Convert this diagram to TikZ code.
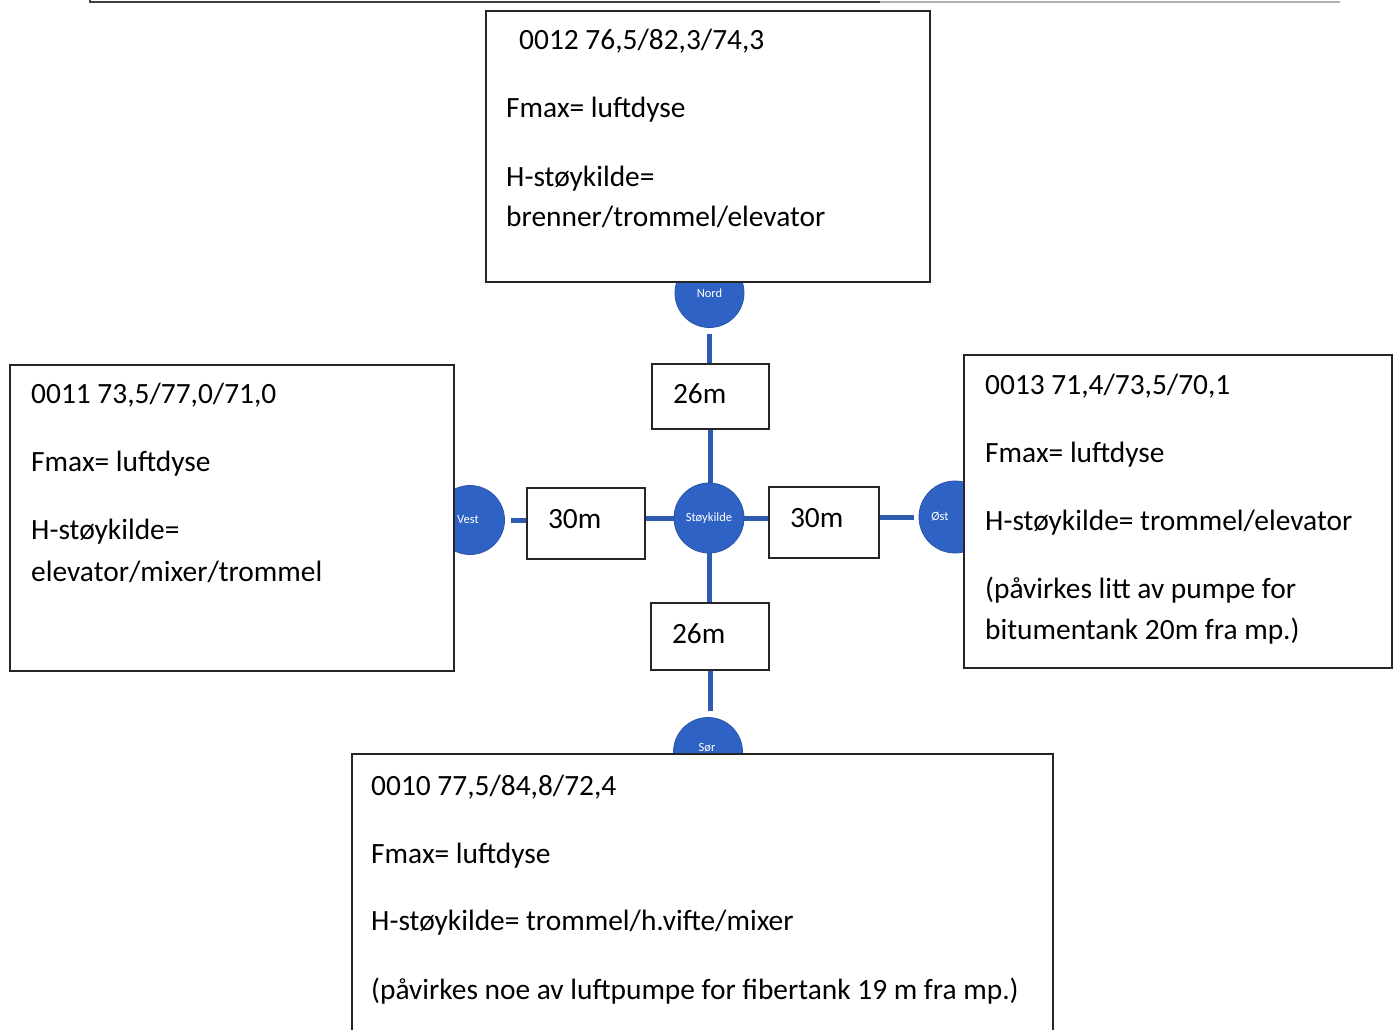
\documentclass[tikz,border=0pt]{standalone}
\usepackage{fontspec}
\setmainfont{Carlito}
\definecolor{nodeblue}{HTML}{2E63C5}
\definecolor{lineblue}{HTML}{2C5BB0}
\begin{document}
\begin{tikzpicture}[x=1pt,y=-1pt,
  circ/.style={circle,fill=nodeblue,draw=nodeblue!85!black,line width=0.8pt,minimum size=69pt,inner sep=0pt,text=white,font=\fontsize{12.5}{14}\selectfont},
  bigbox/.style={draw=black!85,line width=1.8pt,fill=white,inner sep=0pt},
  dbox/.style={draw=black!85,line width=1.8pt,fill=white,inner ysep=0pt,inner xsep=21pt,align=left,font=\fontsize{29.4}{34}\selectfont},
  txt/.style={anchor=base west,inner sep=0pt,font=\fontsize{29.4}{34}\selectfont},
  conn/.style={draw=lineblue,line width=5pt}]
\useasboundingbox (0,0) rectangle (1397,1029);
% top border line of page edge
\draw[black!75,line width=2pt] (90,-2) -- (90,2) -- (880,2);
\draw[black!30,line width=1.5pt] (880,2) -- (1340,2);
% circles
\node[circ] (nord) at (709.5,293) {Nord};
\node[circ] (vest) at (470,520) {\hspace*{-4pt}Vest};
\node[circ,minimum size=70pt] (st) at (709,518) {Støykilde};
\node[circ,minimum size=72pt,label={[text=white,font=\fontsize{12.5}{14}\selectfont,xshift=-15pt]center:Øst}] (ost) at (955,517) {};
\node[circ] (sor) at (708,752) {};
\node[text=white,font=\fontsize{12.5}{14}\selectfont,inner sep=0pt] (sorlabel) at (707,748) {Sør};
% distance boxes
\node[dbox,text width=75pt,minimum height=65pt,text depth=6pt] (d1) at (710.5,396.5) {26m};
\node[dbox,text width=76pt,minimum height=71pt,text depth=10pt] (d2) at (586,523.5) {30m};
\node[dbox,text width=68pt,minimum height=71pt,text depth=10pt] (d3) at (824,522.5) {30m};
\node[dbox,text width=76pt,minimum height=67pt,text depth=6pt] (d4) at (710,636.5) {26m};
% connectors
\draw[conn,shorten <=6pt] (nord.south) -- (nord.south |- d1.north);
\draw[conn] (d1.south) -- (d1.south |- st.north);
\draw[conn] (st.south) -- (st.south |- d4.north);
\draw[conn,shorten >=6pt] (d4.south) -- (d4.south |- sor.north);
\draw[conn,shorten <=6pt] (vest.east) -- (vest.east -| d2.west);
\draw[conn] (st.west -| d2.east) -- (st.west);
\draw[conn] (st.east) -- (st.east -| d3.west);
\draw[conn,shorten >=5pt] (ost.west -| d3.east) -- (ost.west);
% big boxes
\node[bigbox,minimum width=444pt,minimum height=271pt] (top) at (708,146.5) {};
\node[bigbox,minimum width=444pt,minimum height=306pt] (left) at (232,518) {};
\node[bigbox,minimum width=428pt,minimum height=313pt] (right) at (1178,511.5) {};
\node[bigbox,minimum width=701pt,minimum height=306pt] (bottom) at (702.5,907) {};
% texts top
\node[txt] (t1) at (519,49) {0012 76,5/82,3/74,3};
\node[txt] (t2) at (506,117) {Fmax= luftdyse};
\node[txt] (t3) at (506,186) {H-støykilde=};
\node[txt] (t4) at (506,226) {brenner/trommel/elevator};
% texts left
\node[txt] (l1) at (31,403) {0011 73,5/77,0/71,0};
\node[txt] (l2) at (31,471) {Fmax= luftdyse};
\node[txt] (l3) at (31,539) {H-støykilde=};
\node[txt] (l4) at (31,581) {elevator/mixer/trommel};
% texts right
\node[txt] (r1) at (985,394) {0013 71,4/73,5/70,1};
\node[txt] (r2) at (985,462) {Fmax= luftdyse};
\node[txt] (r3) at (985,530) {H-støykilde= trommel/elevator};
\node[txt] (r4) at (985,598) {(påvirkes litt av pumpe for};
\node[txt] (r5) at (985,639) {bitumentank 20m fra mp.)};
% texts bottom
\node[txt] (b1) at (371,795) {0010 77,5/84,8/72,4};
\node[txt] (b2) at (371,863) {Fmax= luftdyse};
\node[txt] (b3) at (371,930) {H-støykilde= trommel/h.vifte/mixer};
\node[txt] (b4) at (371,999) {(påvirkes noe av luftpumpe for fibertank 19 m fra mp.)};
\end{tikzpicture}
\end{document}
